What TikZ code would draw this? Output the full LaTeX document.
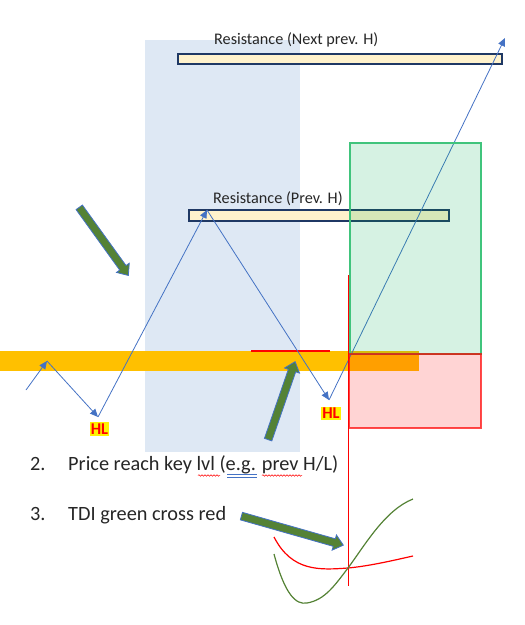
\documentclass[tikz,border=0pt]{standalone}
\usepackage{fontspec}
\setmainfont{Carlito}
\usetikzlibrary{arrows.meta,shapes.arrows,decorations.pathmorphing}
\definecolor{colblue}{RGB}{222,232,244}
\definecolor{resfill}{RGB}{255,242,204}
\definecolor{resdraw}{RGB}{31,56,100}
\definecolor{bandorange}{RGB}{255,192,0}
\definecolor{pathblue}{RGB}{68,114,196}
\definecolor{boxgreen}{RGB}{0,176,80}
\definecolor{tdigreen}{RGB}{84,130,53}
\definecolor{txtgray}{RGB}{38,38,38}

\begin{document}
\begin{tikzpicture}[x=1pt,y=-1pt,
    resbar/.style={fill=resfill,draw=resdraw,line width=1.6pt},
    pricemove/.style={pathblue,line width=0.8pt,-{Triangle[length=8pt,width=7pt]}},
    bigarrow/.style={single arrow,fill=tdigreen,draw=pathblue,line width=0.8pt,inner sep=3.5pt,
      single arrow head extend=4pt,single arrow tip angle=80,anchor=tail},
    hltag/.style={fill=yellow,text=red,font=\bfseries\fontsize{16.5}{16.5}\selectfont,inner sep=1.2pt},
    reslabel/.style={text=txtgray,font=\fontsize{16.2}{17}\selectfont,inner sep=0pt,anchor=base west},
    itemtext/.style={text=txtgray,font=\fontsize{20.3}{22}\selectfont,inner sep=0pt,anchor=base west},
    spellwave/.style={red,line width=0.5pt,decorate,decoration={snake,amplitude=0.8pt,segment length=3pt}}]

  \useasboundingbox (0,0) rectangle (525,625);

  \fill[colblue] (145,40) rectangle (300,452);
  \draw[resbar] (178,54) rectangle (502,64);
  \draw[resbar] (189,210) rectangle (449,221);
  \node[reslabel] (nextlabel) at (214,44.5) {Resistance (Next prev. H)};
  \node[reslabel] (prevlabel) at (213,203) {Resistance (Prev. H)};

  \fill[bandorange] (0,351) rectangle (419,371);
  \draw[red,line width=2.5pt] (251,351) -- (330,351);

  % price path
  \coordinate (p0) at (26,390);
  \coordinate (p1) at (47,361);
  \coordinate (p2) at (98,417);
  \coordinate (p3) at (207,210);
  \coordinate (p4) at (329,400);
  \coordinate (p5) at (505,38);
  \draw[pricemove] (p0) -- (p1);
  \draw[pricemove] (p1) -- (p2);
  \draw[pricemove] (p2) -- (p3);
  \draw[pricemove] (p3) -- (p4);
  \draw[pricemove] (p4) -- (p5);

  \filldraw[fill=boxgreen,fill opacity=0.16,draw=boxgreen!75!white,line width=1.2pt] (350,143) rectangle (481,354);
  \filldraw[fill=red,fill opacity=0.17,draw=red,draw opacity=0.7,line width=1.2pt] (349,354) rectangle (481,428);
  \draw[red,line width=0.8pt] (348,275) -- (348,586);

  \node[hltag] (hlone) at (99.5,429) {HL};
  \node[hltag] (hltwo) at (331,413.5) {HL};

  \node[bigarrow,rotate=-54.2,minimum height=84pt] (downarrow) at (79,207) {};
  \node[bigarrow,rotate=70.9,minimum height=82.5pt] (uparrow) at (268,440) {};
  \node[bigarrow,rotate=-15.9,minimum height=106pt] (crossarrow) at (241,516) {};

  \node[itemtext] (numtwo) at (30,470.5) {2.};
  \node[itemtext] (itemtwo) at (68,470.5) {Price reach key lvl (e.g. prev H/L)};
  \node[itemtext] (numthree) at (30,520) {3.};
  \node[itemtext] (itemthree) at (68,520) {TDI green cross red};
  \draw[spellwave] (198,475.5) -- (220,475.5);
  \draw[pathblue,line width=0.6pt] (227,474) -- (257,474) (227,477) -- (257,477);
  \draw[spellwave] (262,475.5) -- (302,475.5);

  % TDI lines
  \draw[red,line width=1.2pt] (274,537) .. controls (292,572) and (320,570) .. (348,568)
    .. controls (370,566) and (395,560) .. (413,556);
  \draw[tdigreen,line width=1.2pt] (274,554) .. controls (285,595) and (296,605) .. (307,603)
    .. controls (325,600) and (335,585) .. (348,568) .. controls (365,545) and (385,510) .. (413,499);
\end{tikzpicture}
\end{document}
